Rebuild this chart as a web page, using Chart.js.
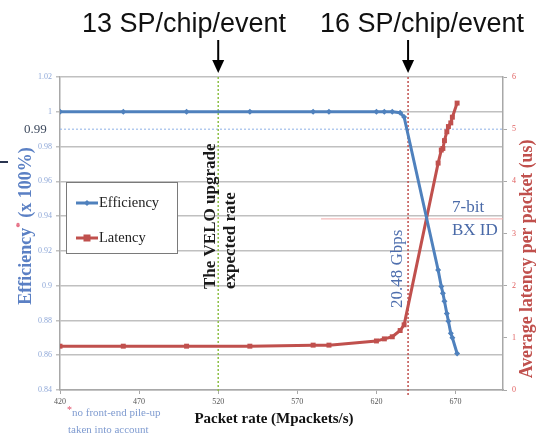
<!DOCTYPE html>
<html><head><meta charset="utf-8">
<script src="https://cdn.jsdelivr.net/npm/chart.js@4/dist/chart.umd.min.js"></script>
<style>html,body{margin:0;padding:0;background:#fff;overflow:hidden}</style>
</head><body>
<canvas id="c" width="538" height="439"></canvas>
<script>
// ---- data ----
const packetRate = [420,460,500,540,580,590,620,625,630,635,637.5,659,661,662,663,664.5,665.5,667,668,671];
const efficiency = [1,1,1,1,1,1,1,1,1,0.9995,0.997,0.909,0.8995,0.8957,0.891,0.884,0.8795,0.8726,0.870,0.861];
const latency    = [0.84,0.84,0.84,0.84,0.86,0.86,0.94,0.98,1.02,1.14,1.25,4.35,4.60,4.63,4.78,4.95,5.05,5.12,5.23,5.50];
const xTicks   = [420,470,520,570,620,670];
const effTicks = [0.84,0.86,0.88,0.90,0.92,0.94,0.96,0.98,1.00,1.02];
const latTicks = [0,1,2,3,4,5,6];
const seriesNames = ['Efficiency','Latency'];
const expectedRate = 520;   // VELO upgrade expected rate
const linkLimit = 640;      // 20.48 Gbps
const effRef = 0.99;
const bxLimit = 3.28;       // 7-bit BX ID latency limit
const bxStart = 585;

const BLUE = '#4F81BD', RED = '#C0504D', SERIF = '"Liberation Serif", "DejaVu Serif", serif';

function txt(ctx, s, x, y, font, color, align, base, rot){
  ctx.save(); ctx.translate(x,y); if(rot) ctx.rotate(rot);
  ctx.font = font; ctx.fillStyle = color; ctx.textAlign = align||'left'; ctx.textBaseline = base||'middle';
  ctx.fillText(s,0,0); ctx.restore();
}
function seg(ctx,x1,y1,x2,y2){ctx.beginPath();ctx.moveTo(x1,y1);ctx.lineTo(x2,y2);ctx.stroke();}

const overlay = {
  id:'overlay',
  beforeDatasetsDraw(chart){
    const {ctx, chartArea:a, scales:{x,y,y1}} = chart;
    ctx.save();
    ctx.setLineDash([2,2]); ctx.lineWidth = 1; ctx.strokeStyle = '#8DB0E6';
    let yy = y.getPixelForValue(effRef); seg(ctx,a.left,yy,a.right,yy);
    ctx.setLineDash([]); ctx.strokeStyle = '#F2AAAA';
    yy = y1.getPixelForValue(bxLimit); seg(ctx,x.getPixelForValue(bxStart),yy,a.right,yy);
    ctx.setLineDash([2,2]); ctx.lineWidth = 1.5; ctx.strokeStyle = '#8DBF45';
    let xx = x.getPixelForValue(expectedRate); seg(ctx,xx,a.top,xx,a.bottom+3);
    ctx.strokeStyle = RED;
    xx = x.getPixelForValue(linkLimit); seg(ctx,xx,a.top,xx,a.bottom+6);
    ctx.restore();
  },
  afterDraw(chart){
    const {ctx, chartArea:a, scales:{x,y,y1}} = chart;
    const xe = x.getPixelForValue(expectedRate), xl = x.getPixelForValue(linkLimit);
    // top labels and arrows
    txt(ctx,'13 SP/chip/event',184,32,'27px "Liberation Sans", Arial, sans-serif','#111','center','alphabetic');
    txt(ctx,'16 SP/chip/event',422,32,'27px "Liberation Sans", Arial, sans-serif','#111','center','alphabetic');
    ctx.save(); ctx.fillStyle='#000'; ctx.strokeStyle='#000'; ctx.lineWidth=2;
    [xe,xl].forEach(px=>{ seg(ctx,px,40,px,64); ctx.beginPath(); ctx.moveTo(px-6,60); ctx.lineTo(px+6,60); ctx.lineTo(px,73); ctx.closePath(); ctx.fill(); });
    ctx.restore();
    // rotated annotations
    const R = -Math.PI/2;
    txt(ctx,'The VELO upgrade',xe-8,289,'bold 17px '+SERIF,'#1a1a1a','left','middle',R);
    txt(ctx,'expected rate',xe+12,289,'bold 17px '+SERIF,'#1a1a1a','left','middle',R);
    txt(ctx,'20.48 Gbps',xl-11,308,'17px '+SERIF,'#4F6FAE','left','middle',R);
    txt(ctx,'7-bit',452,208,'17px '+SERIF,'#4A6AA8','left','middle');
    txt(ctx,'BX ID',452,231,'17px '+SERIF,'#4A6AA8','left','middle');
    // axis titles
    ctx.save(); ctx.translate(26,226); ctx.rotate(R);
    ctx.font='bold 18px '+SERIF; ctx.textBaseline='middle';
    const p1='Efficiency', p2=' (x 100%)', w1=ctx.measureText(p1).width, w2=ctx.measureText(p2).width;
    ctx.font='bold 11px '+SERIF; const ws=ctx.measureText('*').width;
    let sx=-(w1+ws+w2)/2;
    ctx.font='bold 18px '+SERIF; ctx.fillStyle='#5B80C4'; ctx.fillText(p1,sx,0);
    ctx.font='bold 11px '+SERIF; ctx.fillStyle='#E0506A'; ctx.fillText('*',sx+w1,-6);
    ctx.font='bold 18px '+SERIF; ctx.fillStyle='#5B80C4'; ctx.fillText(p2,sx+w1+ws,0);
    ctx.restore();
    txt(ctx,'Average latency per packet (us)',527,259,'bold 17.8px '+SERIF,RED,'center','middle',R);
    txt(ctx,'Packet rate (Mpackets/s)',274,419,'bold 15px '+SERIF,'#111','center','middle');
    txt(ctx,'0.99',24,130,'13px '+SERIF,'#3E4A5E','left','middle');
    ctx.save(); ctx.fillStyle='#2A3550'; ctx.fillRect(0,161,8,2); ctx.restore();
    // footnote
    txt(ctx,'*',67,410,'10px '+SERIF,'#E0506A','left','middle');
    txt(ctx,'no front-end pile-up',72,413,'11px '+SERIF,'#7F9BD0','left','middle');
    txt(ctx,'taken into account',68,430,'11px '+SERIF,'#7F9BD0','left','middle');
    // legend
    ctx.save(); ctx.fillStyle='#fff'; ctx.fillRect(66.5,182.5,111,71);
    ctx.strokeStyle='#7a7a7a'; ctx.lineWidth=1; ctx.strokeRect(66.5,182.5,111,71);
    const items=[{c:BLUE,y:203,m:'d'},{c:RED,y:238,m:'s'}];
    items.forEach((it,i)=>{
      ctx.strokeStyle=it.c; ctx.fillStyle=it.c; ctx.lineWidth=3; seg(ctx,76,it.y,98,it.y);
      if(it.m==='s') ctx.fillRect(83.5,it.y-3.5,7,7);
      else { ctx.beginPath(); ctx.moveTo(87,it.y-3); ctx.lineTo(90,it.y); ctx.lineTo(87,it.y+3); ctx.lineTo(84,it.y); ctx.closePath(); ctx.fill(); }
      txt(ctx,seriesNames[i],99,it.y,'14.5px '+SERIF,'#222','left','middle');
    });
    ctx.restore();
  }
};

const fmt = v => String(+Number(v).toFixed(2));
new Chart(document.getElementById('c'), {
  type:'scatter',
  data:{ datasets:[
    { label:seriesNames[0], data:packetRate.map((p,i)=>({x:p,y:efficiency[i]})), yAxisID:'y',
      showLine:true, borderColor:BLUE, backgroundColor:BLUE, borderWidth:3, pointStyle:'rectRot', pointRadius:3, pointBorderWidth:0, tension:0 },
    { label:seriesNames[1], data:packetRate.map((p,i)=>({x:p,y:latency[i]})), yAxisID:'y1',
      showLine:true, borderColor:RED, backgroundColor:RED, borderWidth:3, pointStyle:'rect', pointRadius:3.5, pointBorderWidth:0, tension:0 }
  ]},
  options:{
    responsive:false, animation:false, devicePixelRatio:1,
    layout:{padding:{top:77,left:0,right:0,bottom:0}},
    plugins:{legend:{display:false}, tooltip:{enabled:false}},
    scales:{
      x:{ type:'linear', min:420, max:700,
        afterBuildTicks:s=>{s.ticks=xTicks.map(v=>({value:v}));},
        afterFit:s=>{s.height=49;},
        ticks:{font:{family:SERIF,size:8},color:'#555',padding:3,callback:v=>String(v),maxRotation:0},
        grid:{drawOnChartArea:false,drawTicks:true,tickLength:4,color:'#a8a8a8'},
        border:{color:'#a8a8a8',width:1.5} },
      y:{ position:'left', min:0.84, max:1.02,
        afterBuildTicks:s=>{s.ticks=effTicks.map(v=>({value:v}));},
        afterFit:s=>{s.width=60;},
        ticks:{font:{family:SERIF,size:8},color:'#8FA8D8',padding:4,callback:fmt},
        grid:{color:'#c0c0c0',lineWidth:1.5,tickLength:4},
        border:{color:'#a8a8a8',width:1.5} },
      y1:{ position:'right', min:0, max:6,
        afterBuildTicks:s=>{s.ticks=latTicks.map(v=>({value:v}));},
        afterFit:s=>{s.width=35;},
        ticks:{font:{family:SERIF,size:8},color:'#E06060',padding:5,callback:v=>String(v)},
        grid:{drawOnChartArea:false,tickLength:4,color:'#a8a8a8'},
        border:{color:'#a8a8a8',width:1.5} }
    }
  },
  plugins:[overlay]
});
</script>
</body></html>
